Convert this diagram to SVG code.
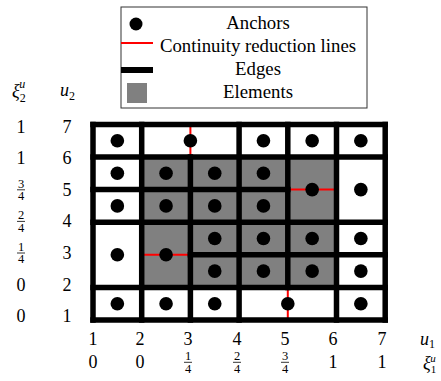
<svg xmlns="http://www.w3.org/2000/svg" width="441" height="381" viewBox="0 0 441 381">
<style>
text{font-family:"Liberation Serif","Times New Roman",serif;fill:#000}
.lg{font-size:18.8px;text-anchor:middle}
.ax{font-size:18px;text-anchor:middle}
.fr{font-size:12.5px;text-anchor:middle}
.it{font-style:italic}
.edge{stroke:#000;stroke-width:5.5;stroke-linecap:square;fill:none}
.red{stroke:#f00;stroke-width:2;fill:none}
.bar{stroke:#000;stroke-width:0.8}
.anchor{fill:#000}
</style>
<rect width="441" height="381" fill="#fff"/>

<g id="legend">
  <rect x="121" y="7" width="246" height="101" fill="#fff" stroke="#333" stroke-width="1"/>
  <circle cx="136" cy="24" r="6.5" class="anchor"/>
  <text class="lg" x="258" y="28.5">Anchors</text>
  <line x1="121" y1="43" x2="153" y2="43" class="red"/>
  <text class="lg" x="258" y="51.5">Continuity reduction lines</text>
  <rect x="121" y="67" width="32" height="6" fill="#000"/>
  <text class="lg" x="258" y="74.5">Edges</text>
  <rect x="127" y="83" width="20" height="20" fill="#808080"/>
  <text class="lg" x="258" y="97.5">Elements</text>
</g>

<g id="elements">
  <rect x="93" y="124.4" width="292.2" height="195.6" fill="#fff"/>
  <rect x="141.7" y="157" width="194.8" height="130.4" fill="#808080"/>
</g>

<g id="reduction-lines">
  <line x1="141.7" y1="254.8" x2="190.4" y2="254.8" class="red"/>
  <line x1="287.8" y1="189.6" x2="336.5" y2="189.6" class="red"/>
  <line x1="190.4" y1="124.4" x2="190.4" y2="157" class="red"/>
  <line x1="287.8" y1="287.4" x2="287.8" y2="320" class="red"/>
</g>

<g id="edges">
  <line class="edge" x1="93" y1="124.4" x2="385.2" y2="124.4"/>
  <line class="edge" x1="93" y1="157" x2="385.2" y2="157"/>
  <line class="edge" x1="93" y1="189.6" x2="287.8" y2="189.6"/>
  <line class="edge" x1="93" y1="222.2" x2="385.2" y2="222.2"/>
  <line class="edge" x1="190.4" y1="254.8" x2="385.2" y2="254.8"/>
  <line class="edge" x1="93" y1="287.4" x2="385.2" y2="287.4"/>
  <line class="edge" x1="93" y1="320" x2="385.2" y2="320"/>
  <line class="edge" x1="93" y1="124.4" x2="93" y2="320"/>
  <line class="edge" x1="141.7" y1="124.4" x2="141.7" y2="320"/>
  <line class="edge" x1="190.4" y1="157" x2="190.4" y2="320"/>
  <line class="edge" x1="239.1" y1="124.4" x2="239.1" y2="320"/>
  <line class="edge" x1="287.8" y1="124.4" x2="287.8" y2="287.4"/>
  <line class="edge" x1="336.5" y1="124.4" x2="336.5" y2="320"/>
  <line class="edge" x1="385.2" y1="124.4" x2="385.2" y2="320"/>
</g>

<g id="anchors" class="anchor">
  <circle cx="117.35" cy="140.7" r="6.8"/>
  <circle cx="190.4" cy="140.7" r="6.8"/>
  <circle cx="263.45" cy="140.7" r="6.8"/>
  <circle cx="312.15" cy="140.7" r="6.8"/>
  <circle cx="360.85" cy="140.7" r="6.8"/>
  <circle cx="117.35" cy="173.3" r="6.8"/>
  <circle cx="166.05" cy="173.3" r="6.8"/>
  <circle cx="214.75" cy="173.3" r="6.8"/>
  <circle cx="263.45" cy="173.3" r="6.8"/>
  <circle cx="117.35" cy="205.9" r="6.8"/>
  <circle cx="166.05" cy="205.9" r="6.8"/>
  <circle cx="214.75" cy="205.9" r="6.8"/>
  <circle cx="263.45" cy="205.9" r="6.8"/>
  <circle cx="312.15" cy="189.6" r="6.8"/>
  <circle cx="360.85" cy="189.6" r="6.8"/>
  <circle cx="214.75" cy="238.5" r="6.8"/>
  <circle cx="263.45" cy="238.5" r="6.8"/>
  <circle cx="312.15" cy="238.5" r="6.8"/>
  <circle cx="360.85" cy="238.5" r="6.8"/>
  <circle cx="214.75" cy="271.1" r="6.8"/>
  <circle cx="263.45" cy="271.1" r="6.8"/>
  <circle cx="312.15" cy="271.1" r="6.8"/>
  <circle cx="360.85" cy="271.1" r="6.8"/>
  <circle cx="117.35" cy="254.8" r="6.8"/>
  <circle cx="166.05" cy="254.8" r="6.8"/>
  <circle cx="117.35" cy="303.7" r="6.8"/>
  <circle cx="166.05" cy="303.7" r="6.8"/>
  <circle cx="214.75" cy="303.7" r="6.8"/>
  <circle cx="287.8" cy="303.7" r="6.8"/>
  <circle cx="360.85" cy="303.7" r="6.8"/>
</g>

<g id="left-axis">
  <text x="12" y="97" style="font-size:18px" class="it">ξ<tspan dy="5" font-size="12" font-style="normal">2</tspan><tspan dx="-6.5" dy="-14" font-size="12">u</tspan></text>
  <text x="60" y="96" style="font-size:18px" class="it">u<tspan dy="4" font-size="12" font-style="normal">2</tspan></text>
  <text class="ax" x="67" y="132.5">7</text>
  <text class="ax" x="67" y="164.1">6</text>
  <text class="ax" x="67" y="195.7">5</text>
  <text class="ax" x="67" y="227.3">4</text>
  <text class="ax" x="67" y="258.9">3</text>
  <text class="ax" x="67" y="290.5">2</text>
  <text class="ax" x="67" y="322.1">1</text>
  <text class="ax" x="21" y="132.5">1</text>
  <text class="ax" x="21" y="164.1">1</text>
  <text class="fr" x="21" y="187.5">3</text><line class="bar" x1="17" y1="189.8" x2="25" y2="189.8"/><text class="fr" x="21" y="200">4</text>
  <text class="fr" x="21" y="219.1">2</text><line class="bar" x1="17" y1="221.4" x2="25" y2="221.4"/><text class="fr" x="21" y="231.6">4</text>
  <text class="fr" x="21" y="250.7">1</text><line class="bar" x1="17" y1="253" x2="25" y2="253"/><text class="fr" x="21" y="263.2">4</text>
  <text class="ax" x="21" y="290.5">0</text>
  <text class="ax" x="21" y="322.1">0</text>
</g>

<g id="bottom-axis">
  <text class="ax" x="93" y="345">1</text>
  <text class="ax" x="140" y="345">2</text>
  <text class="ax" x="188" y="345">3</text>
  <text class="ax" x="237" y="345">4</text>
  <text class="ax" x="285" y="345">5</text>
  <text class="ax" x="333" y="345">6</text>
  <text class="ax" x="382" y="345">7</text>
  <text x="420" y="345" style="font-size:18px" class="it">u<tspan dy="3" font-size="12" font-style="normal">1</tspan></text>
  <text class="ax" x="93" y="368">0</text>
  <text class="ax" x="140" y="368">0</text>
  <text class="fr" x="188" y="360">1</text><line class="bar" x1="184" y1="362.3" x2="192" y2="362.3"/><text class="fr" x="188" y="372.5">4</text>
  <text class="fr" x="237" y="360">2</text><line class="bar" x1="233" y1="362.3" x2="241" y2="362.3"/><text class="fr" x="237" y="372.5">4</text>
  <text class="fr" x="285" y="360">3</text><line class="bar" x1="281" y1="362.3" x2="289" y2="362.3"/><text class="fr" x="285" y="372.5">4</text>
  <text class="ax" x="333" y="368">1</text>
  <text class="ax" x="382" y="368">1</text>
  <text x="423" y="369" style="font-size:18px" class="it">ξ<tspan dy="4" font-size="11" font-style="normal">1</tspan><tspan dx="-6" dy="-11.5" font-size="11">u</tspan></text>
</g>
</svg>
